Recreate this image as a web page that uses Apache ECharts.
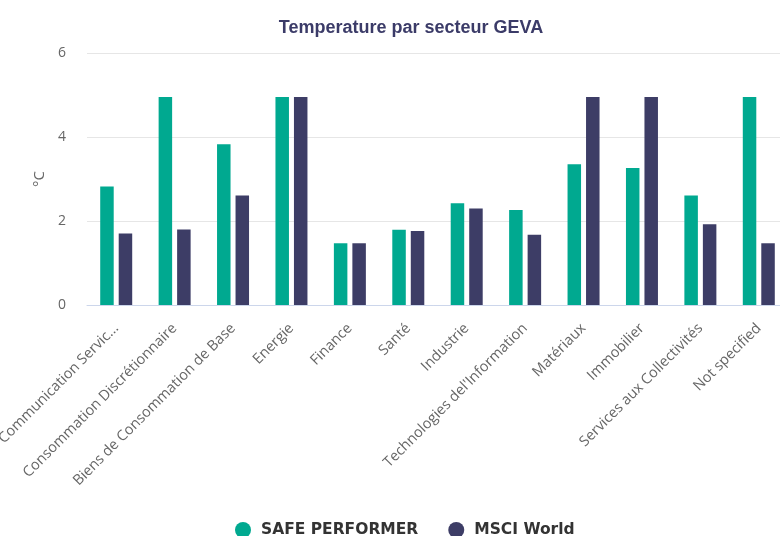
<!DOCTYPE html>
<html>
<head>
<meta charset="utf-8">
<script src="https://cdn.jsdelivr.net/npm/echarts@6/dist/echarts.min.js"></script>
<style>
  html, body { margin: 0; padding: 0; background: #fff; }
  #myChart { width: 780px; height: 536px; }
</style>
</head>
<body>
<div id="myChart"></div>
<script>
const categories = [
  "Communication Servic...",
  "Consommation Discrétionnaire",
  "Biens de Consommation de Base",
  "Energie",
  "Finance",
  "Santé",
  "Industrie",
  "Technologies del'Information",
  "Matériaux",
  "Immobilier",
  "Services aux Collectivités",
  "Not specified"
];
const safePerformer = [2.82, 4.95, 3.83, 4.95, 1.47, 1.79, 2.42, 2.26, 3.35, 3.26, 2.61, 4.95];
const msciWorld = [1.70, 1.80, 2.61, 4.95, 1.47, 1.76, 2.30, 1.67, 4.95, 4.95, 1.92, 1.47];
const yTicks = [0, 2, 4, 6];

let myChart = echarts.init(document.getElementById("myChart"));
myChart.setOption({
  animation: false,
  title: {
    text: "Temperature par secteur GEVA",
    left: 406,
    textAlign: "center",
    top: 14,
    textStyle: {
      fontFamily: "Liberation Sans",
      fontSize: 18,
      fontWeight: "bold",
      color: "#3b3b68"
    }
  },
  legend: {
    top: 517,
    left: 230,
    icon: "circle",
    itemWidth: 16,
    itemHeight: 16,
    itemGap: 30,
    textStyle: {
      fontFamily: "DejaVu Sans",
      fontSize: 15.5,
      fontWeight: "bold",
      color: "#333",
      padding: [0, 0, 0, 5]
    },
    data: ["SAFE PERFORMER", "MSCI World"]
  },
  grid: {
    left: 87,
    top: 53,
    width: 701,
    height: 252,
    outerBoundsMode: "none"
  },
  xAxis: {
    type: "category",
    data: categories,
    axisLine: { lineStyle: { color: "#ccd6eb" } },
    axisTick: { length: 11, lineStyle: { color: "#ccd6eb" } },
    axisLabel: {
      rotate: 45,
      interval: 0,
      margin: 21,
      fontFamily: "Open Sans",
      fontSize: 14.5,
      color: "#666"
    }
  },
  yAxis: {
    type: "value",
    min: yTicks[0],
    max: yTicks[yTicks.length - 1],
    interval: 2,
    name: "°C",
    nameLocation: "middle",
    nameGap: 38,
    nameTextStyle: { fontFamily: "Open Sans", fontSize: 15, color: "#666" },
    axisLabel: { fontFamily: "Open Sans", fontSize: 14, color: "#666", margin: 21 },
    splitLine: { lineStyle: { color: "#e6e6e6" } }
  },
  series: [
    {
      name: "SAFE PERFORMER",
      type: "bar",
      data: safePerformer,
      barWidth: 13.5,
      barGap: "37%",
      itemStyle: { color: "#00a990" }
    },
    {
      name: "MSCI World",
      type: "bar",
      data: msciWorld,
      barWidth: 13.5,
      itemStyle: { color: "#3d3d66" }
    }
  ]
});
</script>
</body>
</html>
